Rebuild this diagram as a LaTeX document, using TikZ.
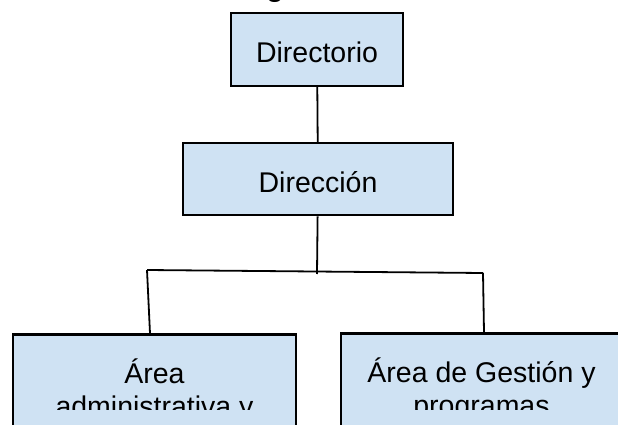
\documentclass[tikz,border=0pt]{standalone}
\usepackage{fontspec}
\setmainfont{Liberation Sans}
\usetikzlibrary{positioning}
\definecolor{boxblue}{HTML}{CFE2F3}

\begin{document}
\begin{tikzpicture}[x=1pt, y=-1pt, node distance=55pt,
    org box/.style={draw, line width=2.2pt, fill=boxblue, inner sep=0pt,
        font=\fontsize{28.5}{33}\selectfont},
    top box/.style={org box, text height=27pt, text depth=0pt},
    area box/.style={org box, align=center, minimum width=283pt, minimum height=112pt},
    link/.style={line width=1.8pt}]
    \useasboundingbox (0,0) rectangle (618,425);
    \clip (0,0) rectangle (618,425);
    \node[anchor=base, font=\bfseries\fontsize{28.5}{33}\selectfont] (title) at (275,-3.5) {g};
    \node[top box, minimum width=172pt, minimum height=73pt] (board) at (317,49.5) {Directorio};
    \node[top box, minimum width=270pt, minimum height=72pt, below=of board, xshift=1pt] (management) {Dirección};
    \node[area box, below=117pt of management, xshift=-163.5pt] (admin area) {Área\\administrativa y};
    \node[area box, minimum width=281pt, below=116pt of management, xshift=163.5pt] (programs area) {Área de Gestión y\\programas};
    % text runs past the box edge
    \fill[boxblue] (14.2,409.5) rectangle (294.8,426);
    \fill[boxblue] (342.2,409.5) rectangle (619,426);

    \coordinate (junction) at (317,274);
    \coordinate (left corner) at (147,270);
    \coordinate (right corner) at (483,273);
    \draw[link] (board) -- (management);
    \draw[link] (management) -- (junction);
    \draw[link] (left corner) -- (right corner);
    \draw[link] (left corner) -- ([xshift=-4.5pt]admin area.north);
    \draw[link] (right corner) -- ([xshift=2.5pt]programs area.north);
\end{tikzpicture}
\end{document}
